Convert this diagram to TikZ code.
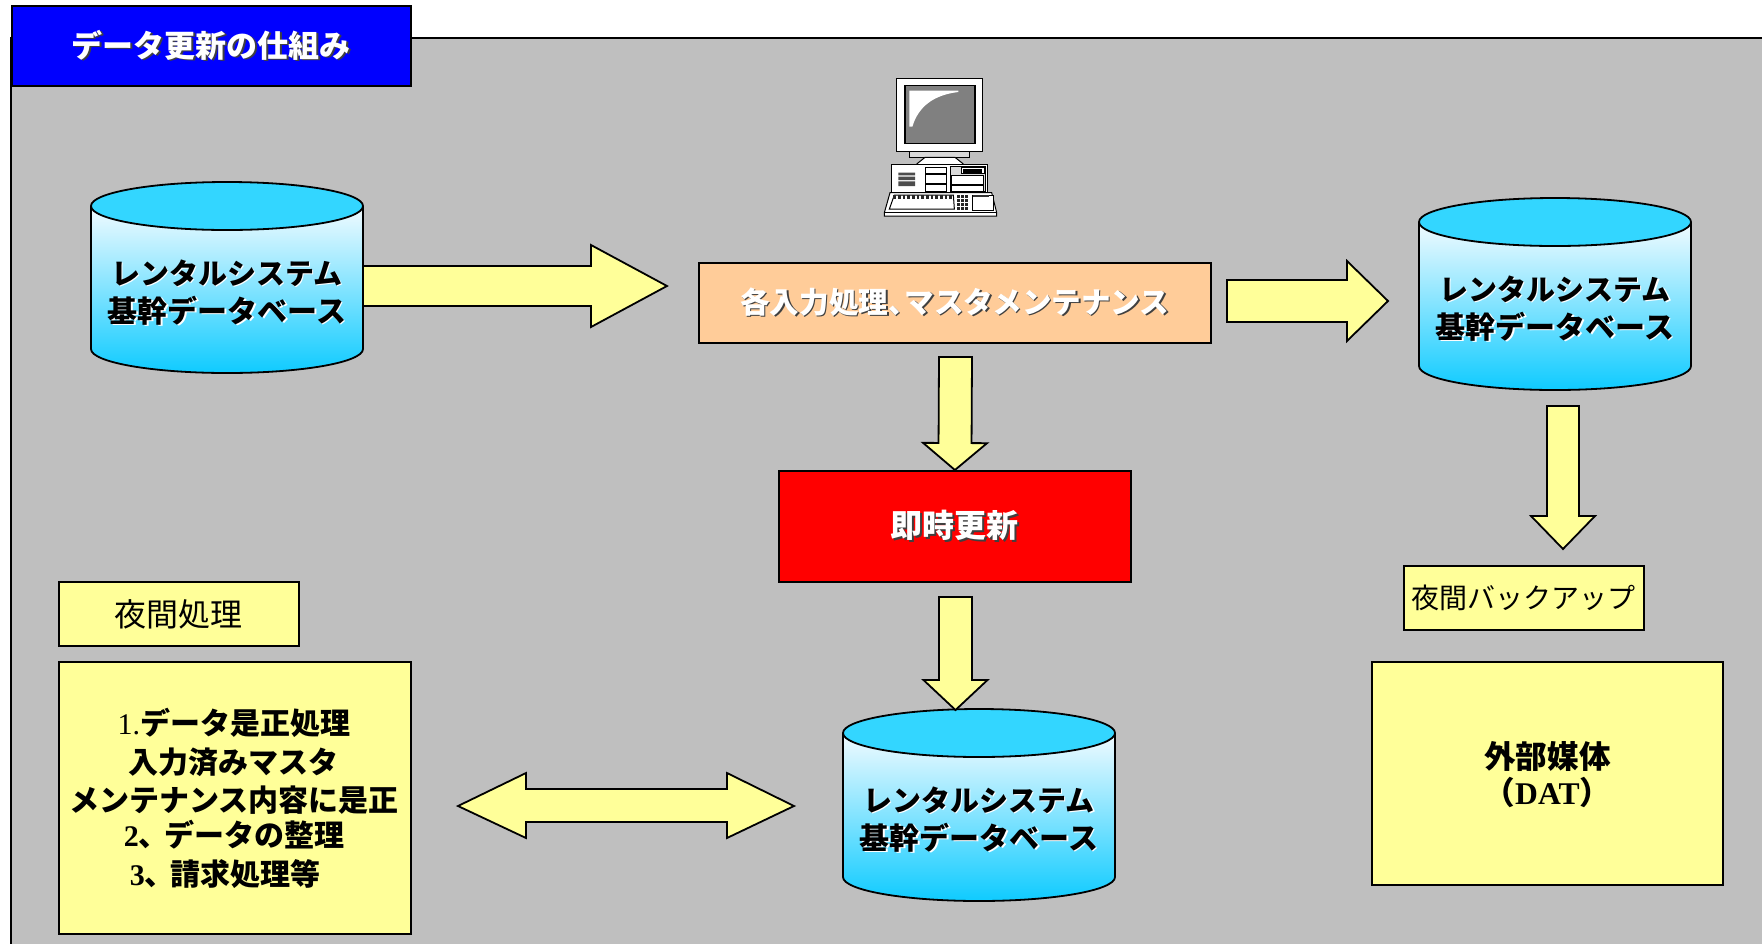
\documentclass[tikz,border=0pt]{standalone}
\usepackage{fontspec}
\usetikzlibrary{calc}
\setmainfont{Noto Sans CJK JP}
\newfontfamily\tms{Liberation Serif}
\definecolor{panelgray}{HTML}{BFBFBF}
\definecolor{paleyellow}{HTML}{FFFF99}
\definecolor{peach}{HTML}{FFCC99}
\definecolor{cyantop}{HTML}{33D6FF}
\definecolor{cyanbot}{HTML}{0FCBFF}
\definecolor{cyanpale}{HTML}{F2FBFF}
\newcommand{\shw}[3]{\leavevmode\rlap{\kern0.7pt\raisebox{-0.7pt}{\textcolor{#2}{#3}}}\textcolor{#1}{#3}}
\newcommand{\btext}[1]{\shw{black}{white}{#1}}
\newcommand{\wtext}[1]{\shw{white}{black!75}{#1}}
\tikzset{
  outline/.style={draw=black,line width=0.9pt,line join=miter},
  boxy/.style={outline,fill=paleyellow,inner sep=0pt,anchor=north west,align=center},
  label jp/.style={font=\fontsize{15}{19}\selectfont\bfseries,align=center,inner sep=0pt},
  plain jp/.style={font=\fontsize{15}{19}\selectfont,align=center,inner sep=0pt},
  barrow/.style={outline,fill=paleyellow},
  pc/.style={draw=black,line width=0.5pt,fill=white},
}
% block arrow from coordinate to coordinate: half body, half head, head length (px)
\newcommand{\blockarrow}[5]{%
  \coordinate (hb) at ($(#2)!#5*0.5pt!(#1)$);
  \draw[barrow] ($(#1)!#3*0.5pt!90:(#2)$) -- ($(hb)!#3*0.5pt!90:(#2)$) -- ($(hb)!#4*0.5pt!90:(#2)$) -- (#2)
    -- ($(hb)!#4*0.5pt!-90:(#2)$) -- ($(hb)!#3*0.5pt!-90:(#2)$) -- ($(#1)!#3*0.5pt!-90:(#2)$) -- cycle;
}
% cylinder: name, centre x, top, bottom, half width
\newcommand{\dbcyl}[5]{%
  \shade[top color=cyanpale,bottom color=cyanbot]
    (#2-#5,#3+24) -- (#2-#5,#4-24) arc[start angle=180,end angle=360,x radius=#5,y radius=-24]
    -- (#2+#5,#3+24) -- cycle;
  \draw[outline,line width=0.9pt]
    (#2-#5,#3+24) -- (#2-#5,#4-24) arc[start angle=180,end angle=360,x radius=#5,y radius=-24]
    -- (#2+#5,#3+24);
  \draw[outline,fill=cyantop] (#2,#3+24) ellipse[x radius=#5,y radius=24];
  \node[label jp] (#1) at (#2,#3+111)
    {{\fontsize{14.5}{19}\selectfont\btext{レンタルシステム}}\\\btext{基幹データベース}};
  \coordinate (#1w) at (#2-#5,#3+96);
  \coordinate (#1e) at (#2+#5,#3+96);
}
\begin{document}
\begin{tikzpicture}[x=0.5pt,y=-0.5pt]
\useasboundingbox (0,0) rectangle (1762,943);
\clip (0,0) rectangle (1762,943);
\fill[white] (0,0) rectangle (1762,943);
% panel
\draw[outline,fill=panelgray] (11,38) rectangle (1780,960);
% title
\node[boxy,fill=blue,minimum width=199.5pt,minimum height=40pt,font=\fontsize{15.5}{19}\selectfont\bfseries] (title) at (11,5) {\raisebox{-1.4pt}{\wtext{データ更新の仕組み}}};
% computer
\begin{scope}[shift={(860,60)},x=0.1667pt,y=-0.1667pt]
  \draw[pc,line width=0.7pt] (110,55) rectangle (367,275);
  \fill[black!50] (135,76) rectangle (345,250);
  \draw[black,line width=0.7pt] (135,76) rectangle (345,250);
  \fill[white] (148,92) -- (295,92) -- (295,96) .. controls (220,105) and (175,140) .. (157,200) -- (148,200) -- cycle;
  \draw[pc,fill=black!15] (148,275) rectangle (327,292);
  \draw[pc] (170,312) -- (195,292) -- (285,292) -- (310,312);
  \draw[pc] (93,313) rectangle (383,398);
  \fill[black!70] (115,338) rectangle (165,346) (115,350) rectangle (165,360) (115,364) rectangle (165,378);
  \draw[pc] (197,322) rectangle (260,395);
  \draw[black,line width=0.7pt] (197,342) -- (260,342) (197,372) -- (260,372);
  \draw[pc,fill=black!15] (270,320) rectangle (375,395);
  \draw[pc] (303,322) rectangle (373,340);
  \fill[black] (310,328) rectangle (365,338);
  \draw[pc] (274,347) rectangle (370,372);
  \draw[pc] (274,376) rectangle (370,395);
  \draw[pc] (73,468) -- (73,458) -- (90,398) -- (395,398) -- (410,458) -- (410,468) -- cycle;
  \draw[black,line width=0.5pt] (73,458) -- (410,458);
  \draw[pc] (88,447) -- (103,405) -- (280,405) -- (283,447) -- cycle;
  \foreach \kx in {100,114,...,275} \fill[black!85] (\kx,406) rectangle +(8,10);
  \foreach \kx in {292,304,316} \foreach \ky in {406,418,430,442} \fill[black!85] (\kx,\ky) rectangle +(9,8);
  \draw[pc] (338,405) rectangle (400,450);
  \fill[black!80] (338,405) rectangle (388,412);
\end{scope}
% cylinders
\dbcyl{dbA}{227}{182}{373}{136}
\dbcyl{dbB}{1555}{198}{390}{136}
\dbcyl{dbC}{979}{709}{901}{136}
% boxes
\node[boxy,fill=peach,minimum width=256pt,minimum height=40pt,font=\fontsize{14.8}{19}\selectfont\bfseries] (input) at (698,262) {\raisebox{-0.8pt}{\wtext{各入力処理、\kern-0.45em マスタメンテナンス}}};
\node[boxy,fill=red,minimum width=176pt,minimum height=55.5pt,label jp,font=\fontsize{16}{19}\selectfont\bfseries] (rt) at (778,470) {\raisebox{-2pt}{\wtext{即時更新}}};
\node[boxy,minimum width=120pt,minimum height=32pt,plain jp,font=\fontsize{16}{19}\selectfont] (night) at (58,581) {夜間処理};
\node[boxy,minimum width=176pt,minimum height=136pt] (nbox) at (58,661) {};
\node[label jp] (ntext) at (234,798) {%
  {\tms\mdseries 1.}データ是正処理\\[0.5pt]
  入力済みマスタ\\[0pt]
  メンテナンス内容に是正\\[-1.5pt]
  {\tms 2}、\kern-0.15em データの整理\\[0.5pt]
  {\tms 3}、\kern-0.15em 請求処理等\hspace*{9pt}};
\node[boxy,minimum width=120pt,minimum height=32pt,plain jp,font=\fontsize{14}{19}\selectfont] (back) at (1403,565) {\raisebox{-0.5pt}{夜間バックアップ}};
\node[boxy,minimum width=175.5pt,minimum height=111.5pt] (ext) at (1371,661) {};
\node[label jp,font=\fontsize{15.8}{19}\selectfont\bfseries] (exttext) at (ext.center) [yshift=-0.5pt] {外部媒体\\[-1pt]（{\tms DAT}）};
% connectors
\coordinate (a1s) at (dbAe |- 0,286);
\coordinate (a1e) at (667,286);
\blockarrow{a1s}{a1e}{20}{41}{76}
\coordinate (a2s) at (1227,301);
\coordinate (a2e) at (1388,301);
\blockarrow{a2s}{a2e}{21}{40}{41}
\coordinate (a3s) at (955.5,357);
\coordinate (a3e) at (rt.north);
\blockarrow{a3s}{a3e}{16.5}{32}{27}
\coordinate (a4s) at (955.5,597);
\coordinate (a4e) at (955.5,710);
\blockarrow{a4s}{a4e}{16.5}{32}{30}
\coordinate (a5s) at (1563,406);
\coordinate (a5e) at (1563,549);
\blockarrow{a5s}{a5e}{16}{32}{33}
\coordinate (dl) at (458,806);
\coordinate (dr) at (794,806);
\draw[barrow] (dl) -- (526,773) -- (526,789) -- (727,789) -- (727,773) -- (dr) -- (727,838) -- (727,822) -- (526,822) -- (526,838) -- cycle;
\end{tikzpicture}
\end{document}
